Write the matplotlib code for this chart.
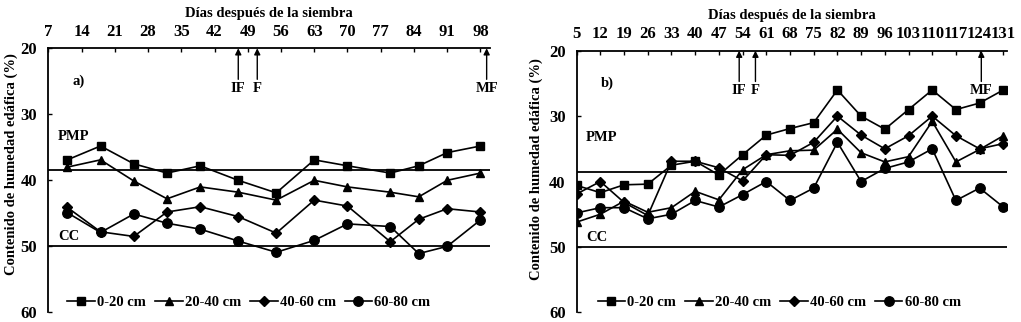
import numpy as np
import matplotlib.pyplot as plt

plt.rcParams['font.family'] = ['Liberation Serif', 'DejaVu Serif']
plt.rcParams['font.weight'] = 'bold'

# Panel a) data
days_a = [11, 18, 25, 32, 39, 47, 55, 63, 70, 79, 85, 91, 98]
a_0_20 = [36.9, 34.8, 37.5, 38.9, 37.8, 40.0, 41.9, 36.9, 37.8, 38.9, 37.8, 35.8, 34.8]
a_20_40 = [38.0, 36.9, 40.1, 42.8, 41.0, 41.8, 43.0, 40.0, 41.0, 41.8, 42.5, 40.0, 38.9]
a_40_60 = [44.1, 47.8, 48.5, 44.8, 44.0, 45.5, 48.0, 43.0, 43.9, 49.3, 45.9, 44.3, 44.8]
a_60_80 = [44.9, 47.9, 45.1, 46.5, 47.4, 49.2, 50.9, 49.1, 46.6, 47.0, 51.1, 50.0, 46.0]
ticks_a = list(range(7, 99, 7))
arrows_a = [(47, 'IF'), (51, 'F'), (99.3, 'MF')]

# Panel b) data
days_b = list(range(5, 132, 7))
b_0_20 = [40.6, 41.7, 40.5, 40.4, 37.5, 36.9, 39.0, 35.9, 32.9, 31.9, 31.0, 26.0, 30.0, 32.0, 29.0, 26.0, 29.0, 28.0, 26.0]
b_20_40 = [46.2, 45.0, 43.0, 44.7, 44.0, 41.5, 42.8, 38.2, 35.9, 35.3, 35.2, 32.0, 35.6, 37.0, 36.2, 30.8, 37.0, 35.1, 33.0]
b_40_60 = [41.9, 40.0, 43.2, 45.2, 36.9, 36.9, 37.9, 39.9, 35.9, 36.0, 34.0, 30.0, 32.9, 35.0, 33.0, 30.0, 33.0, 35.0, 34.2]
b_60_80 = [44.8, 44.0, 44.0, 45.7, 45.0, 42.9, 43.9, 42.0, 40.0, 42.9, 41.0, 34.0, 40.0, 38.0, 37.0, 35.0, 42.9, 41.0, 43.9]
ticks_b = list(range(5, 132, 7))
arrows_b = [(53, 'IF'), (57.8, 'F'), (124.5, 'MF')]

labels = ['0-20 cm', '20-40 cm', '40-60 cm', '60-80 cm']
markers = ['s', '^', 'D', 'o']
msizes = [5.5, 6, 5, 6.8]
pmp = 38.5
cc = 50

fig = plt.figure(figsize=(10.21, 3.22), dpi=100)
ax_a = fig.add_axes([0.0473, 0.03, 0.4326, 0.82])
ax_b = fig.add_axes([0.5648, 0.03, 0.4212, 0.8125])


def draw_panel(ax, days, series, ticks, xlim, arrows, tag, ylab_pos, leg_x):
    ax.axhline(pmp, color='black', lw=1.3, zorder=1)
    ax.axhline(cc, color='black', lw=1.3, zorder=1)
    for vals, lab, mk, ms in zip(series, labels, markers, msizes):
        ax.plot(days, vals, color='black', lw=1.2, marker=mk, ms=ms, label=lab, zorder=3)

    ax.set_xlim(*xlim)
    ax.set_ylim(60, 20)
    ax.set_yticks([20, 30, 40, 50, 60])
    ax.set_xticks(ticks)
    ax.xaxis.tick_top()
    ax.xaxis.set_label_position('top')
    ax.tick_params(axis='both', direction='in', length=3, width=1, labelsize=12)
    ax.tick_params(axis='x', pad=6)
    ax.tick_params(axis='y', pad=8)
    for s in ['right', 'bottom']:
        ax.spines[s].set_visible(False)
    for s in ['left', 'top']:
        ax.spines[s].set_linewidth(1.3)

    ax.set_xlabel('Días después de la siembra', fontsize=10.5, fontweight='bold', labelpad=5)
    ax.set_ylabel('Contenido de humedad edáfica (%)', fontsize=10.5, fontweight='bold')
    ax.yaxis.set_label_coords(*ylab_pos)

    x0 = xlim[0]
    span = xlim[1] - xlim[0]
    ax.text(x0 + span * 0.022, 33.3, 'PMP', fontsize=10.5, fontweight='bold', va='center')
    ax.text(x0 + span * 0.022, 48.5, 'CC', fontsize=10.5, fontweight='bold', va='center')
    ax.text(x0 + span * 0.055, 25.0, tag, fontsize=10.5, fontweight='bold', va='center')

    for d, name in arrows:
        ax.annotate('', xy=(d, 20), xytext=(d, 24.7),
                    arrowprops=dict(arrowstyle='-|>', color='black', lw=1,
                                    mutation_scale=9, shrinkA=0, shrinkB=0))
        ax.text(d, 26.1, name, fontsize=10.5, fontweight='bold', ha='center', va='center')

    ax.legend(loc='lower left', bbox_to_anchor=(leg_x, -0.01), ncol=4, frameon=False,
              fontsize=10.5, handlelength=1.9, handletextpad=0.15, columnspacing=0.6,
              borderaxespad=0.2, borderpad=0.2)


draw_panel(ax_a, days_a, [a_0_20, a_20_40, a_40_60, a_60_80], ticks_a, (7, 100),
           arrows_a, 'a)', (-0.069, 0.56), 0.03)
draw_panel(ax_b, days_b, [b_0_20, b_20_40, b_40_60, b_60_80], ticks_b, (5, 132),
           arrows_b, 'b)', (-0.078, 0.546), 0.035)

fig.savefig('out.png', dpi=100)
